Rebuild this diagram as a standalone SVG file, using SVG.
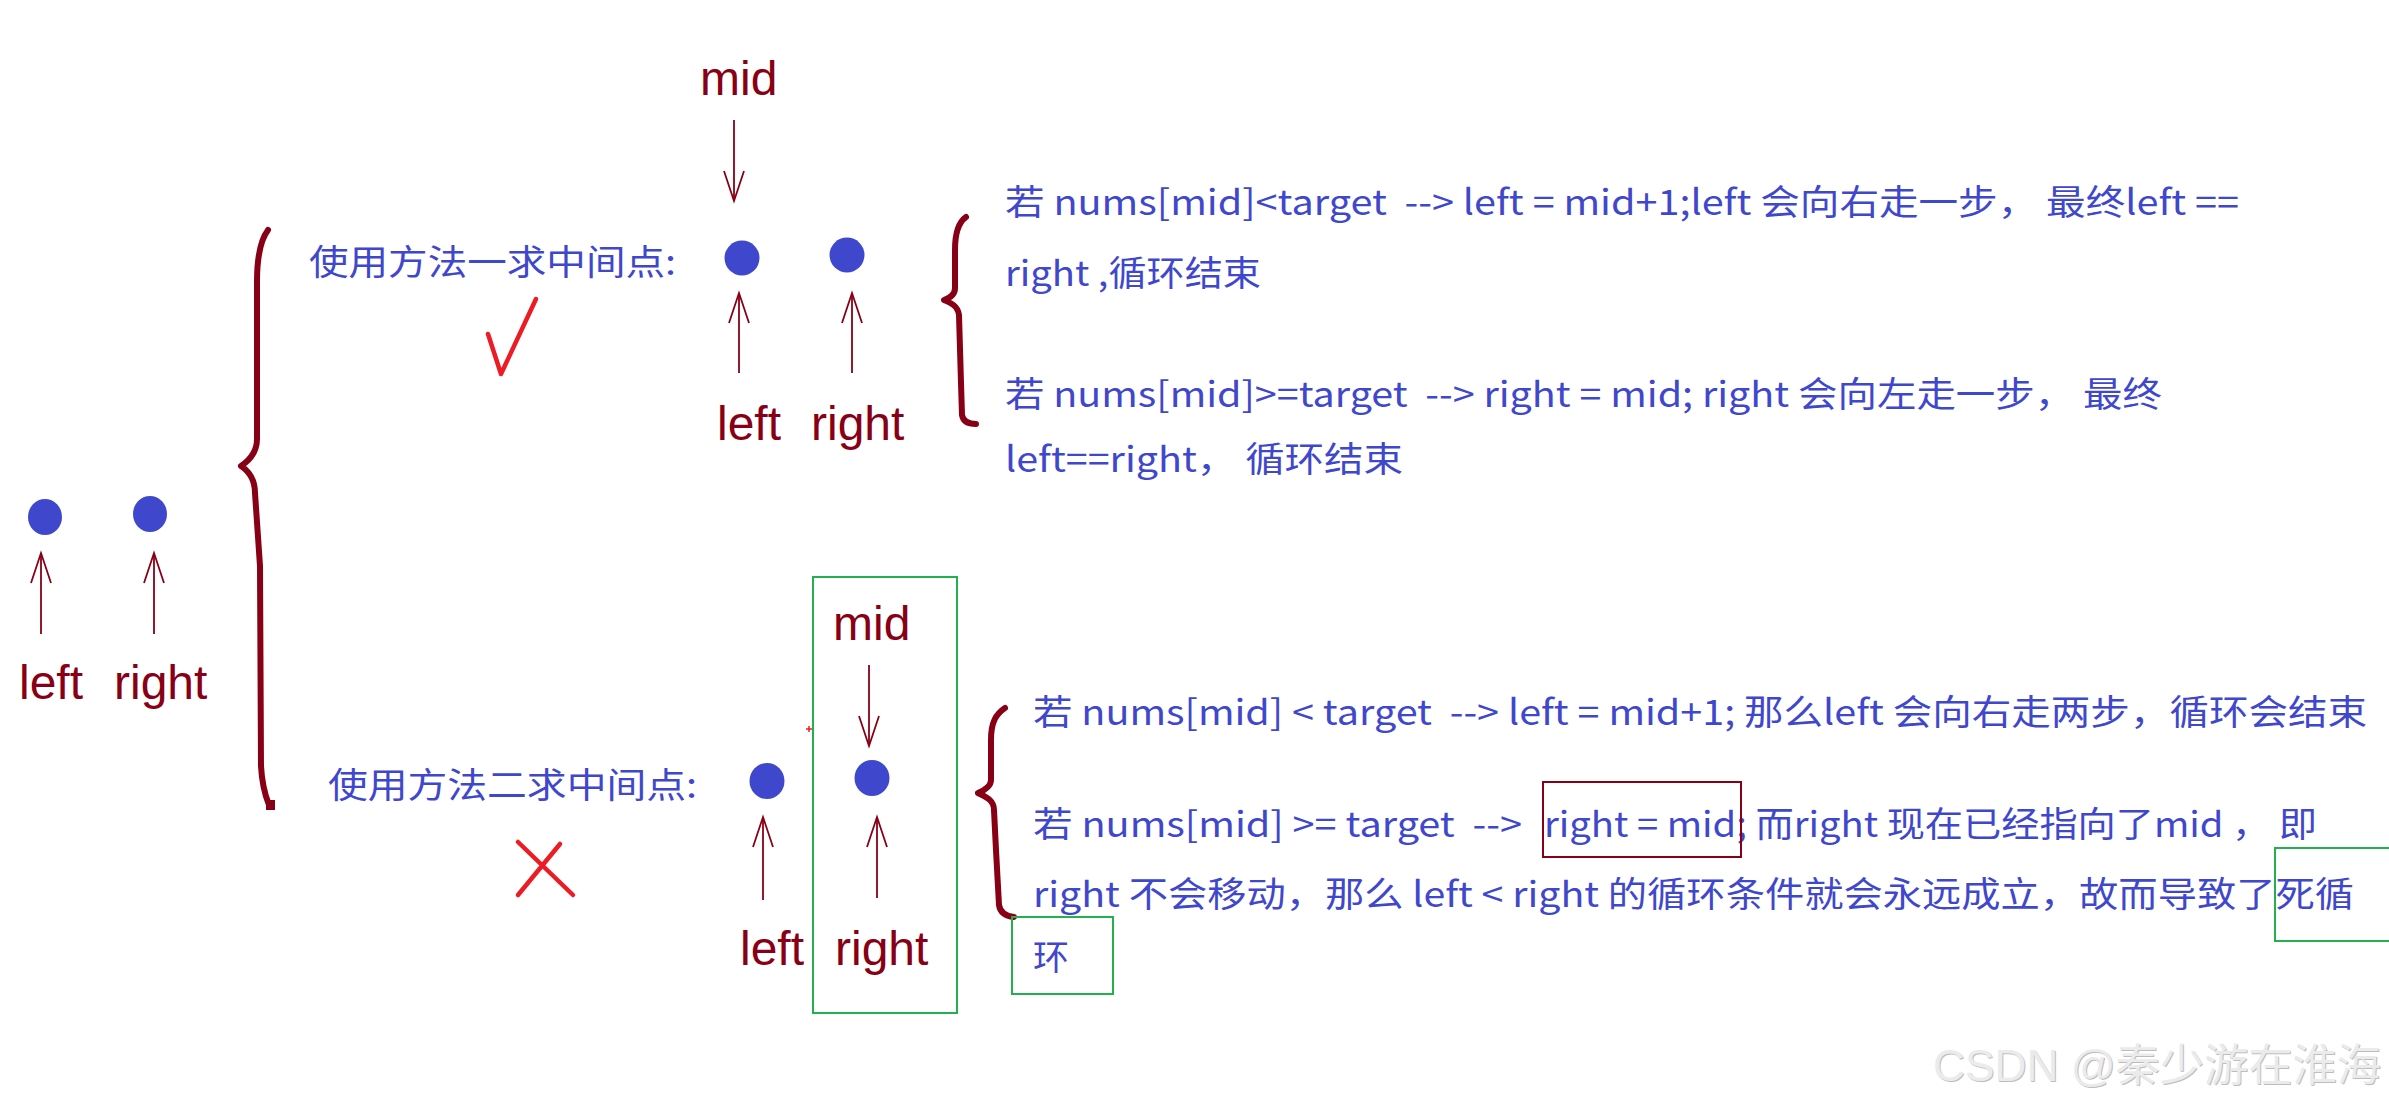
<svg xmlns="http://www.w3.org/2000/svg" width="2389" height="1103" viewBox="0 0 2389 1103">
<style>
.lbl{font-family:"Liberation Sans",Arial,sans-serif;font-size:48px;fill:#880015}
.cn{font-family:"Noto Sans CJK SC","Liberation Sans",sans-serif;font-size:35px;fill:#3F48CC}
.ln{stroke:#880015;stroke-width:1.8;fill:none}
.dot{fill:#3F48CC}
.br{stroke:#880015;stroke-width:6;fill:none;stroke-linecap:round;stroke-linejoin:round}
.red{stroke:#ED1C24;stroke-width:4.5;fill:none;stroke-linecap:round;stroke-linejoin:round}
.grn{stroke:#22B14C;stroke-width:2;fill:none}
.wm{font-family:"Liberation Sans","Noto Sans CJK SC",sans-serif;font-size:44px}
</style>
<defs>
<marker id="vh" markerUnits="userSpaceOnUse" markerWidth="36" markerHeight="26" viewBox="-33 -13 36 26" refX="0" refY="0" orient="auto">
<path d="M-30,-10 L0,0 L-30,10" fill="none" stroke="#880015" stroke-width="1.8"/>
</marker>
</defs>
<rect width="2389" height="1103" fill="#ffffff"/>

<g id="connectors">
<line class="ln" x1="734" y1="120" x2="734" y2="201" marker-end="url(#vh)"/>
<line class="ln" x1="739" y1="373" x2="739" y2="293" marker-end="url(#vh)"/>
<line class="ln" x1="852" y1="373" x2="852" y2="293" marker-end="url(#vh)"/>
<line class="ln" x1="41" y1="634" x2="41" y2="553" marker-end="url(#vh)"/>
<line class="ln" x1="154" y1="634" x2="154" y2="553" marker-end="url(#vh)"/>
<line class="ln" x1="869" y1="665" x2="869" y2="746" marker-end="url(#vh)"/>
<line class="ln" x1="763" y1="900" x2="763" y2="817" marker-end="url(#vh)"/>
<line class="ln" x1="877" y1="898" x2="877" y2="817" marker-end="url(#vh)"/>
</g>

<g id="initial">
<ellipse class="dot" cx="45" cy="517" rx="17" ry="18"/>
<ellipse class="dot" cx="150" cy="514" rx="17" ry="18"/>
<text class="lbl" x="19" y="699">left</text>
<text class="lbl" x="114" y="699">right</text>
</g>

<g id="big-brace">
<path class="br" d="M268,230 C262,238 257,255 257,282 L257,439 C257,452 250,460 241,466 C250,472 255,480 255,493 L260,566 L261,766 C262,785 265,795 269,805"/>
<rect x="266" y="800" width="9" height="10" fill="#880015"/>
</g>

<g id="method1">
<text class="cn" x="309" y="275" textLength="367" lengthAdjust="spacingAndGlyphs">使用方法一求中间点:</text>
<path class="red" d="M488,334 L501,374 L536,299"/>
<text class="lbl" x="700" y="95">mid</text>
<ellipse class="dot" cx="742" cy="258" rx="17.5" ry="17.5"/>
<ellipse class="dot" cx="847" cy="255" rx="17.5" ry="17.5"/>
<text class="lbl" x="717" y="440">left</text>
<text class="lbl" x="811" y="440">right</text>
</g>

<g id="method1-notes">
<path class="br" stroke-width="5" d="M966,217 C959,222 955,232 955,250 L955,288 C955,294 950,298 944,300 C951,303 958,306 959,315 L961,383 L962,415 C963,421 968,424 976,424"/>
<text class="cn" xml:space="preserve" x="1005" y="215" textLength="1234" lengthAdjust="spacingAndGlyphs">若 nums[mid]&lt;target  --&gt; left = mid+1;left 会向右走一步， 最终left ==</text>
<text class="cn" xml:space="preserve" x="1005" y="286" textLength="256" lengthAdjust="spacingAndGlyphs">right ,循环结束</text>
<text class="cn" xml:space="preserve" x="1005" y="407" textLength="1157" lengthAdjust="spacingAndGlyphs">若 nums[mid]&gt;=target  --&gt; right = mid; right 会向左走一步， 最终</text>
<text class="cn" xml:space="preserve" x="1005" y="472" textLength="398" lengthAdjust="spacingAndGlyphs">left==right， 循环结束</text>
</g>

<g id="method2">
<text class="cn" x="328" y="798" textLength="369" lengthAdjust="spacingAndGlyphs">使用方法二求中间点:</text>
<path class="red" d="M518,842 L573,895 M560,844 L518,895"/>
<rect class="grn" x="813" y="577" width="144" height="436"/>
<path d="M806,729 L812,729 M809,726 L809,732" stroke="#ED1C24" stroke-width="1.5"/>
<text class="lbl" x="833" y="640">mid</text>
<ellipse class="dot" cx="767" cy="781" rx="17.5" ry="18"/>
<ellipse class="dot" cx="872" cy="778" rx="17.5" ry="18"/>
<text class="lbl" x="740" y="965">left</text>
<text class="lbl" x="835" y="965">right</text>
</g>

<g id="method2-notes">
<path class="br" stroke-width="5" d="M1005,708 C996,714 991,722 991,740 L991,780 C991,786 985,790 978,793 C986,797 994,800 994,810 L996,850 L999,905 C1000,912 1005,916 1014,917"/>
<text class="cn" xml:space="preserve" x="1033" y="725" textLength="1334" lengthAdjust="spacingAndGlyphs">若 nums[mid] &lt; target  --&gt; left = mid+1; 那么left 会向右走两步，循环会结束</text>
<text class="cn" xml:space="preserve" x="1033" y="837" textLength="489" lengthAdjust="spacingAndGlyphs">若 nums[mid] &gt;= target  --&gt;</text>
<text class="cn" xml:space="preserve" x="1544" y="837" textLength="773" lengthAdjust="spacingAndGlyphs">right = mid; 而right 现在已经指向了mid ， 即</text>
<rect x="1543" y="782" width="198" height="75" fill="none" stroke="#880015" stroke-width="2"/>
<text class="cn" xml:space="preserve" x="1033" y="907" textLength="1321" lengthAdjust="spacingAndGlyphs">right 不会移动，那么 left &lt; right 的循环条件就会永远成立，故而导致了死循</text>
<rect class="grn" x="2275" y="848" width="130" height="93"/>
<text class="cn" x="1033" y="970" textLength="36" lengthAdjust="spacingAndGlyphs">环</text>
<rect class="grn" x="1012" y="917" width="101" height="77"/>
</g>

<g id="watermark">
<text class="wm" x="1934" y="1082" fill="#bdbdbd" textLength="448" lengthAdjust="spacingAndGlyphs">CSDN @秦少游在淮海</text>
<text class="wm" x="1933" y="1081" fill="#ebebeb" textLength="448" lengthAdjust="spacingAndGlyphs">CSDN @秦少游在淮海</text>
</g>
</svg>
